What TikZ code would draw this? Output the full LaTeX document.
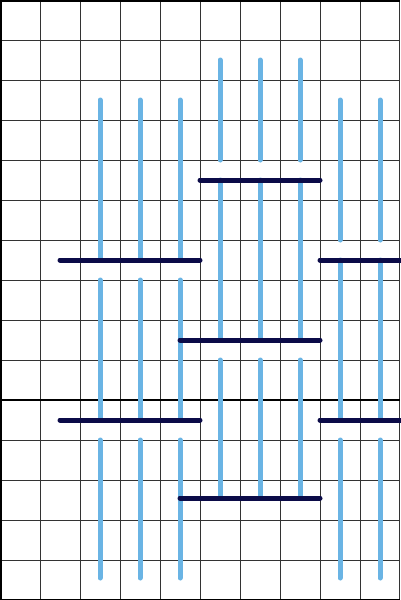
\documentclass[tikz,border=0pt]{standalone}
\definecolor{wblue}{HTML}{6AB4E4}
\definecolor{wnavy}{HTML}{0B0B48}
\tikzset{
  gridline/.style={draw=black!80, line width=0.9pt},
  warp/.style={draw=wblue, line width=5pt, line cap=round},
  weft/.style={draw=wnavy, line width=5pt, line cap=round},
}
\begin{document}
\begin{tikzpicture}[x=1pt,y=-1pt]
\useasboundingbox (0,0) rectangle (400,600);
\fill[white] (0,0) rectangle (400,600);
% grid
\foreach \x in {40,80,...,360} \draw[gridline] (\x,0) -- (\x,600);
\draw[gridline] (399,0) -- (399,600);
\foreach \y in {40,80,...,560} \draw[gridline] (0,\y) -- (400,\y);
\draw[black, line width=2.5pt] (0,400) -- (400,400);
% frame
\draw[black, line width=3pt] (0,0) -- (400,0);
\draw[black, line width=3pt] (0,0) -- (0,600);
\draw[black, line width=3pt] (0,600) -- (400,600);
% warp threads (blue)
\foreach \x in {100,140,180} {
  \draw[warp] (\x,100) -- (\x,260);
  \draw[warp] (\x,280) -- (\x,420);
  \draw[warp] (\x,440) -- (\x,578);
}
\foreach \x in {220,260,300} {
  \draw[warp] (\x,60) -- (\x,160);
  \draw[warp] (\x,180) -- (\x,340);
  \draw[warp] (\x,360) -- (\x,498);
}
\foreach \x in {340,380} {
  \draw[warp] (\x,100) -- (\x,240);
  \draw[warp] (\x,260) -- (\x,420);
  \draw[warp] (\x,440) -- (\x,578);
}
% weft threads (navy)
\draw[weft] (200,180) -- (320,180);
\draw[weft] (60,260) -- (200,260);
\draw[weft] (320,260) -- (410,260);
\draw[weft] (180,340) -- (320,340);
\draw[weft] (60,420) -- (200,420);
\draw[weft] (320,420) -- (410,420);
\draw[weft] (180,498) -- (320,498);
\end{tikzpicture}
\end{document}
